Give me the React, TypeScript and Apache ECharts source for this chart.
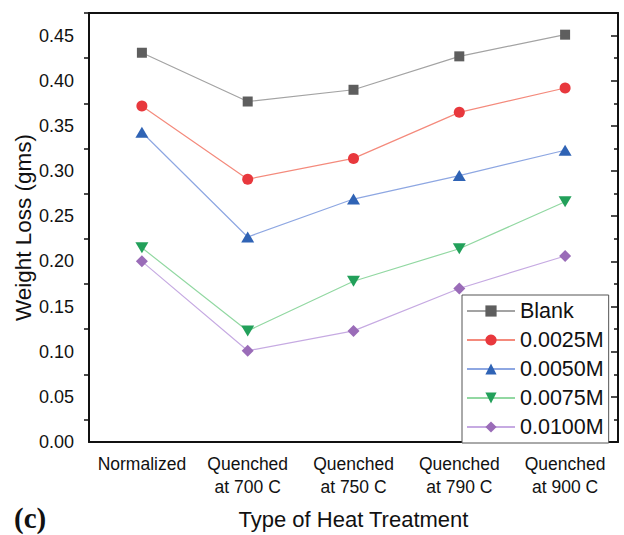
import React, { useEffect, useRef } from "react";
import * as echarts from "echarts";

const categories = ["Normalized", "Quenched\nat 700 C", "Quenched\nat 750 C", "Quenched\nat 790 C", "Quenched\nat 900 C"];
const seriesNames = ["Blank", "0.0025M", "0.0050M", "0.0075M", "0.0100M"];
const blank = [0.431, 0.377, 0.39, 0.427, 0.451];
const m0025 = [0.372, 0.291, 0.314, 0.365, 0.392];
const m0050 = [0.343, 0.227, 0.269, 0.295, 0.323];
const m0075 = [0.215, 0.123, 0.178, 0.214, 0.266];
const m0100 = [0.2, 0.101, 0.123, 0.17, 0.206];
const yMajorTicks = [0, 0.05, 0.1, 0.15, 0.2, 0.25, 0.3, 0.35, 0.4, 0.45];
const yMinorTicks = [0.025, 0.075, 0.125, 0.175, 0.225, 0.275, 0.325, 0.375, 0.425, 0.475];

const markerColors = ["#5e5e5e", "#e8383d", "#2f63b5", "#22a05a", "#9a6cb8"];
const lineColors = ["#a3a3a3", "#f48a7c", "#8ea7e2", "#92d8a2", "#c6aae2"];
const symbols = ["rect", "circle", "triangle", "triangle", "diamond"];
const symbolSizes: any[] = [10, 11, [13, 11], [13, 11], 12];
const symbolRotates = [0, 0, 0, 180, 0];

const FONT = "'Liberation Sans', Arial, sans-serif";

export default function App() {
  const ref = useRef<HTMLDivElement>(null);
  useEffect(() => {
    const chart = echarts.init(ref.current!, null, { renderer: "svg" });
    const data = [blank, m0025, m0050, m0075, m0100];
    const axisLine = { show: true, onZero: false, lineStyle: { color: "#111", width: 2 } };
    const noLine = { show: false, onZero: false };
    const tickStyle = { color: "#111", width: 1.5 };
    const option: any = {
      animation: false,
      backgroundColor: "#fff",
      grid: { left: 89, right: 6, top: 13, bottom: 93, containLabel: false, outerBoundsMode: "none" },
      legend: {
        left: 462,
        top: 295,
        orient: "vertical",
        padding: [5, 5, 5, 4],
        borderColor: "#555",
        borderWidth: 1,
        backgroundColor: "#fff",
        itemWidth: 48,
        itemHeight: 14,
        itemGap: 7,
        textStyle: { fontFamily: FONT, fontSize: 21.5, color: "#111", padding: [0, 0, 0, 0] },
        data: seriesNames,
      },
      xAxis: [
        {
          type: "category",
          position: "bottom",
          data: categories,
          boundaryGap: true,
          axisLine,
          axisTick: { alignWithLabel: true, length: 9, inside: false, lineStyle: tickStyle },
          axisLabel: { fontFamily: FONT, fontSize: 17.5, color: "#111", margin: 10, lineHeight: 23, interval: 0 },
          name: "Type of Heat Treatment",
          nameLocation: "middle",
          nameGap: 66,
          nameMoveOverlap: false,
          nameTextStyle: { fontFamily: FONT, fontSize: 22, color: "#111" },
          splitLine: { show: false },
        },
        {
          type: "category",
          position: "bottom",
          data: categories,
          boundaryGap: true,
          axisLine: noLine,
          axisTick: { length: 6, inside: false, lineStyle: tickStyle },
          axisLabel: { show: false },
          splitLine: { show: false },
        },
        {
          type: "category",
          position: "top",
          data: categories,
          boundaryGap: true,
          axisLine,
          axisTick: { alignWithLabel: true, length: 9, inside: true, lineStyle: tickStyle },
          axisLabel: { show: false },
          splitLine: { show: false },
        },
        {
          type: "category",
          position: "top",
          data: categories,
          boundaryGap: true,
          axisLine: noLine,
          axisTick: { length: 5, inside: true, lineStyle: tickStyle },
          axisLabel: { show: false },
          splitLine: { show: false },
        },
      ],
      yAxis: [
        {
          type: "value",
          position: "left",
          min: 0,
          max: 0.475,
          axisLine,
          axisTick: { length: 9, inside: false, customValues: yMajorTicks, lineStyle: tickStyle },
          axisLabel: {
            customValues: yMajorTicks,
            fontFamily: FONT,
            fontSize: 18,
            color: "#111",
            margin: 15,
            formatter: (v: number) => v.toFixed(2),
          },
          splitLine: { show: false },
          name: "Weight Loss (gms)",
          nameLocation: "middle",
          nameGap: 54,
          nameMoveOverlap: false,
          nameTextStyle: { fontFamily: FONT, fontSize: 22.5, color: "#111" },
        },
        {
          type: "value",
          position: "left",
          min: 0,
          max: 0.475,
          axisLine: noLine,
          axisTick: { show: true, length: 5, inside: false, customValues: yMinorTicks, lineStyle: tickStyle },
          axisLabel: { show: false },
          splitLine: { show: false },
        },
        {
          type: "value",
          position: "right",
          min: 0,
          max: 0.475,
          axisLine,
          axisTick: { show: true, length: 7, inside: true, customValues: yMajorTicks, lineStyle: tickStyle },
          axisLabel: { show: false },
          splitLine: { show: false },
        },
        {
          type: "value",
          position: "right",
          min: 0,
          max: 0.475,
          axisLine: noLine,
          axisTick: { show: true, length: 4, inside: true, customValues: yMinorTicks, lineStyle: tickStyle },
          axisLabel: { show: false },
          splitLine: { show: false },
        },
      ],
      graphic: [
        {
          type: "text",
          left: 14,
          top: 503,
          style: {
            text: "(c)",
            font: "bold 29px 'Liberation Serif', 'Times New Roman', serif",
            fill: "#111",
          },
        },
      ],
      series: seriesNames.map((name, i) => ({
        name,
        type: "line",
        xAxisIndex: 0,
        yAxisIndex: 0,
        data: data[i],
        symbol: symbols[i],
        symbolSize: symbolSizes[i],
        symbolRotate: symbolRotates[i],
        showAllSymbol: true,
        itemStyle: { color: markerColors[i] },
        lineStyle: { color: lineColors[i], width: 1.2 },
        emphasis: { disabled: true },
        z: 2 + i,
      })),
    };
    chart.setOption(option);
    return () => chart.dispose();
  }, []);
  return <div ref={ref} style={{ position: "fixed", left: 0, top: 0, width: 624, height: 535 }} />;
}
